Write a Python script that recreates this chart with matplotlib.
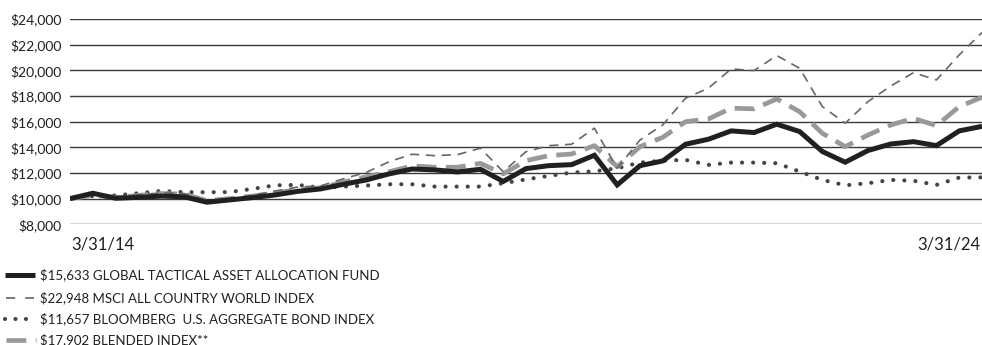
import matplotlib
matplotlib.use("Agg")
import matplotlib.pyplot as plt
from matplotlib.lines import Line2D
import numpy as np

plt.rcParams['font.family'] = ['Lato', 'DejaVu Sans']

start_label = "3/31/14"
end_label = "3/31/24"

fund = [10000, 10420, 10030, 10100, 10200, 10150, 9720, 9900, 10080, 10290,
        10570, 10760, 11120, 11460, 11930, 12310, 12240, 12080, 12290, 11340,
        12340, 12570, 12650, 13380, 11070, 12570, 12940, 14240, 14630, 15280,
        15150, 15800, 15230, 13670, 12840, 13750, 14260, 14440, 14130, 15280,
        15633]
msci = [10000, 10300, 10150, 10300, 10450, 10400, 9850, 10000, 10250, 10600,
        10900, 11000, 11550, 12050, 12880, 13460, 13350, 13430, 13930, 12100,
        13660, 14130, 14240, 15490, 12370, 14570, 15750, 17830, 18610, 20110,
        19980, 21150, 20160, 17170, 15880, 17560, 18780, 19820, 19250, 21200,
        22948]
bond = [10000, 10200, 10250, 10420, 10600, 10500, 10500, 10510, 10760, 11040,
        11070, 10850, 10940, 11020, 11120, 11120, 10940, 10940, 10940, 11200,
        11500, 11770, 12030, 12130, 12370, 12810, 12960, 13020, 12630, 12810,
        12810, 12760, 12110, 11460, 11040, 11200, 11460, 11390, 11070, 11640,
        11657]
blended = [10000, 10250, 10100, 10250, 10400, 10350, 9850, 10000, 10200, 10450,
           10700, 10850, 11300, 11700, 12100, 12550, 12450, 12450, 12750, 11930,
           12960, 13350, 13480, 14130, 12490, 14050, 14780, 16000, 16210, 17050,
           17000, 17770, 16780, 15090, 14050, 14960, 15740, 16260, 15690, 17170,
           17902]
labels = ["$15,633 GLOBAL TACTICAL ASSET ALLOCATION FUND",
          "$22,948 MSCI ALL COUNTRY WORLD INDEX",
          "$11,657 BLOOMBERG  U.S. AGGREGATE BOND INDEX",
          "$17,902 BLENDED INDEX**"]
yticks = [8000, 10000, 12000, 14000, 16000, 18000, 20000, 22000, 24000]

W, H = 982, 345
fig = plt.figure(figsize=(W / 100, H / 100), dpi=100)
ax = fig.add_axes([70 / W, 1 - 224.3 / H, 1 - 70 / W, (224.3 - 19) / H])

x = np.arange(len(fund))

for yv in yticks:
    ax.axhline(yv, color='#3a3a3a', lw=1.0, zorder=1)

styles = [
    dict(color='#999999', lw=3.4, linestyle=(0, (4.2, 2.0)), dash_capstyle='butt', zorder=3),  # blended
    dict(color='#666666', lw=1.2, linestyle=(0, (5.5, 4.0)), zorder=4),  # msci
    dict(color='#444444', lw=3.0, linestyle=(0, (0.01, 2.65)), dash_capstyle='round', zorder=2),  # bond
    dict(color='#231f20', lw=3.6, solid_joinstyle='miter', solid_capstyle='butt', zorder=5),  # fund
]
ax.plot(x, blended, **styles[0])
ax.plot(x, msci, **styles[1])
ax.plot(x, bond, **styles[2])
ax.plot(x, fund, **styles[3])

ax.set_xlim(0, len(fund) - 1)
ax.set_ylim(8000, 24000)
ax.set_yticks(yticks)
ax.set_yticklabels([f"${v:,}" for v in yticks], fontsize=10, color='#231f20')
ax.tick_params(axis='y', length=0, pad=6)
ax.set_xticks([])
for s in ax.spines.values():
    s.set_visible(False)

fig.text(71 / W, 1 - 244 / H, start_label, ha='left', va='center', fontsize=12, color='#231f20')
fig.text(980 / W, 1 - 244 / H, end_label, ha='right', va='center', fontsize=12, color='#231f20')

# legend
rows_y = [275, 297.5, 319, 339.5]
fx = lambda px: px / W
fy = lambda py: 1 - py / H
fig.add_artist(Line2D([fx(5), fx(35)], [fy(rows_y[0])] * 2, color='#231f20', lw=3.6,
                      solid_capstyle='butt'))
fig.add_artist(Line2D([fx(6), fx(34)], [fy(rows_y[1])] * 2, color='#666666', lw=1.2,
                      linestyle=(0, (5.5, 6.0))))
fig.add_artist(Line2D([fx(5), fx(35)], [fy(rows_y[2])] * 2, color='#444444', lw=3.0,
                      linestyle=(0, (0.01, 2.5)), dash_capstyle='round'))
fig.add_artist(Line2D([fx(6), fx(36)], [fy(rows_y[3])] * 2, color='#999999', lw=3.4,
                      linestyle=(0, (4.2, 2.0))))
for ry, lab in zip(rows_y, labels):
    fig.text(fx(40), fy(ry), lab, ha='left', va='center', fontsize=9.5, color='#231f20')

fig.savefig("out.png", dpi=100)
